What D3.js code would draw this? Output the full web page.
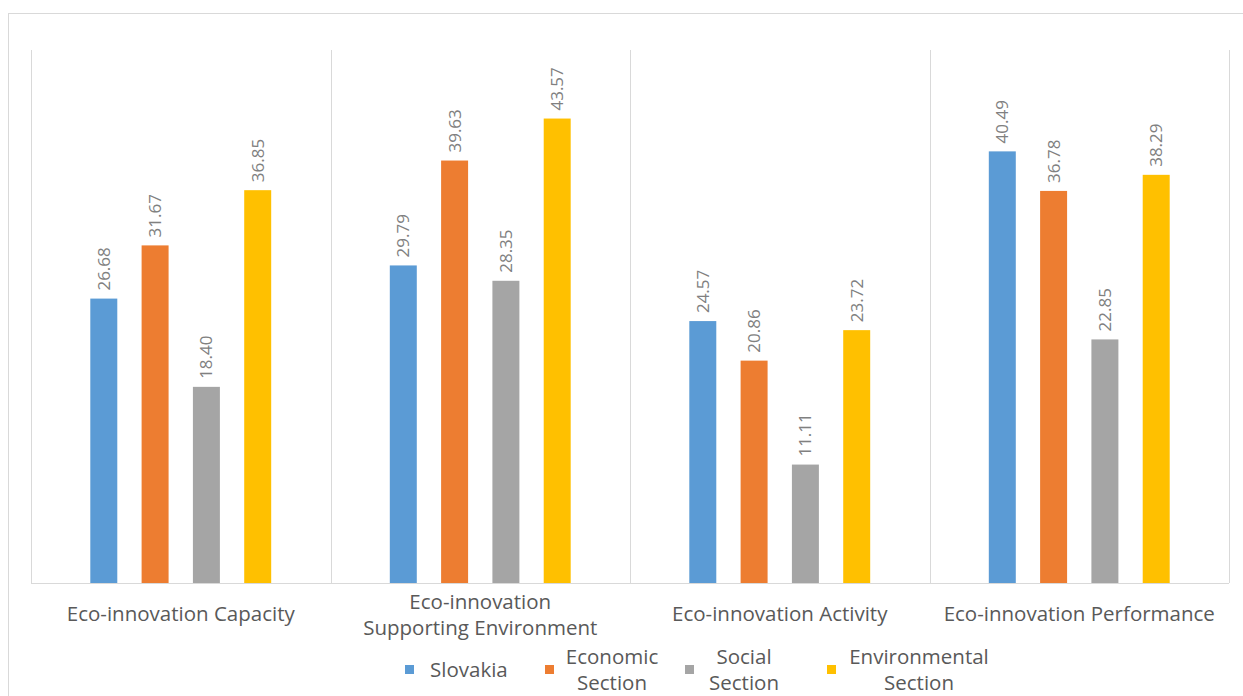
<!DOCTYPE html>
<html><head><meta charset="utf-8">
<script src="https://cdn.jsdelivr.net/npm/d3@7"></script>
<style>body{margin:0;background:#fff;}svg{display:block;font-family:"Open Sans","Noto Sans",sans-serif;}</style>
</head><body><svg id="c" width="1243" height="696"></svg>
<script>
const categories = [["Eco-innovation Capacity"], ["Eco-innovation", "Supporting Environment"], ["Eco-innovation Activity"], ["Eco-innovation Performance"]];
const series = ["Slovakia", "Economic Section", "Social Section", "Environmental Section"];
const seriesLegend = [["Slovakia"], ["Economic", "Section"], ["Social", "Section"], ["Environmental", "Section"]];
const slovakia = [26.68, 29.79, 24.57, 40.49];
const economic = [31.67, 39.63, 20.86, 36.78];
const social = [18.40, 28.35, 11.11, 22.85];
const environmental = [36.85, 43.57, 23.72, 38.29];
const colors = ["#5b9bd5", "#ed7d31", "#a5a5a5", "#ffc000"];
const values = [slovakia, economic, social, environmental];

(function () {
const svg = d3.select("#c");
svg.append("rect").attr("x", 8.5).attr("y", 13.5).attr("width", 1250).attr("height", 700)
  .attr("fill", "none").attr("stroke", "#d9d9d9").attr("stroke-width", 1);

const pLeft = 31, pRight = 1229, pTop = 50, pBottom = 583;
const catIdx = d3.range(categories.length);
const x0 = d3.scaleBand().domain(catIdx).range([pLeft, pRight]).padding(0);
const x1 = d3.scaleBand().domain(d3.range(series.length)).range([0, x0.bandwidth()])
  .paddingInner(0.474).paddingOuter(1.156);
const y = d3.scaleLinear().domain([0, 50]).range([pBottom, pTop]);

const sep = svg.append("g");
[...catIdx, categories.length].forEach(i => {
  const xx = i < categories.length ? x0(i) : pRight;
  sep.append("line").attr("x1", Math.round(xx) + 0.5).attr("x2", Math.round(xx) + 0.5)
    .attr("y1", pTop).attr("y2", pBottom).attr("stroke", "#d9d9d9").attr("stroke-width", 1);
});
svg.append("line").attr("x1", pLeft).attr("x2", pRight).attr("y1", pBottom + 0.5).attr("y2", pBottom + 0.5)
  .attr("stroke", "#d9d9d9");

const g = svg.append("g");
catIdx.forEach(ci => {
  series.forEach((s, si) => {
    const v = values[si][ci];
    const bx = x0(ci) + x1(si);
    g.append("rect").attr("x", bx).attr("y", y(v)).attr("width", x1.bandwidth())
      .attr("height", y(0) - y(v)).attr("fill", colors[si]);
    const lx = bx + x1.bandwidth() / 2 + 6, ly = y(v) - 8;
    g.append("text").attr("transform", `translate(${lx},${ly}) rotate(-90)`)
      .attr("text-anchor", "start").attr("font-size", 17).attr("fill", "#808080")
      .text(v.toFixed(2));
  });
});

catIdx.forEach(ci => {
  const lines = categories[ci];
  const cx = x0(ci) + x0.bandwidth() / 2;
  const t = svg.append("text").attr("text-anchor", "middle").attr("font-size", 20.5).attr("fill", "#595959");
  const y0 = lines.length === 1 ? 621 : 609;
  lines.forEach((l, k) => t.append("tspan").attr("x", cx).attr("y", y0 + k * 26).text(l));
});

const legendX = [405, 545, 685, 827];
const legendTextX = [430, 612, 744, 919];
seriesLegend.forEach((lines, si) => {
  svg.append("rect").attr("x", legendX[si]).attr("y", 665).attr("width", 9).attr("height", 9).attr("fill", colors[si]);
  const t = svg.append("text").attr("font-size", 20.5).attr("fill", "#595959")
    .attr("text-anchor", lines.length === 1 ? "start" : "middle");
  const y0 = lines.length === 1 ? 677 : 664;
  lines.forEach((l, k) => t.append("tspan").attr("x", legendTextX[si]).attr("y", y0 + k * 26).text(l));
});
})();
</script></body></html>
